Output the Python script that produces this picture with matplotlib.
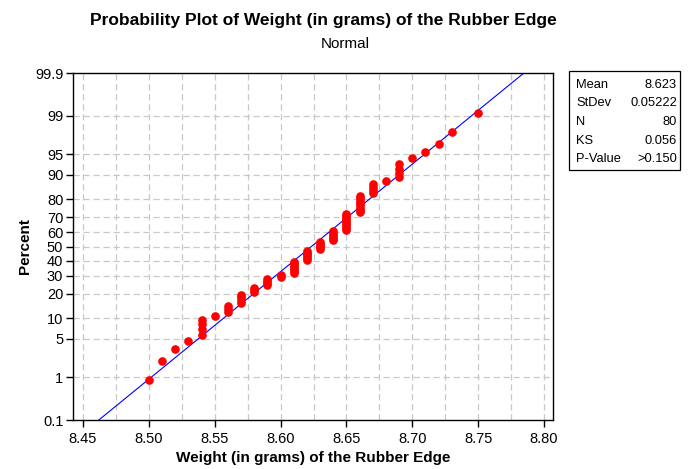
import matplotlib
matplotlib.use("Agg")
import matplotlib.pyplot as plt
import numpy as np
from statistics import NormalDist

plt.rcParams['font.family'] = ['Liberation Sans', 'DejaVu Sans']

# Data: weight values and counts of observations
weights = [8.50, 8.51, 8.52, 8.53, 8.54, 8.55, 8.56, 8.57, 8.58, 8.59, 8.60,
           8.61, 8.62, 8.63, 8.64, 8.65, 8.66, 8.67, 8.68, 8.69, 8.70, 8.71,
           8.72, 8.73, 8.75]
counts = [1, 1, 1, 1, 4, 1, 3, 4, 3, 4, 2,
          7, 6, 5, 6, 9, 8, 4, 1, 4, 1, 1,
          1, 1, 1]
y_ticks_pct = [0.1, 1, 5, 10, 20, 30, 40, 50, 60, 70, 80, 90, 95, 99, 99.9]
x_ticks = [8.45, 8.50, 8.55, 8.60, 8.65, 8.70, 8.75, 8.80]
stat_names = ["Mean", "StDev", "N", "KS", "P-Value"]
stat_values = ["8.623", "0.05222", "80", "0.056", ">0.150"]

nd = NormalDist()
data = np.sort(np.repeat(weights, counts))
n = len(data)
ranks = np.arange(1, n + 1)
pp = (ranks - 0.3) / (n + 0.4)
zpts = np.array([nd.inv_cdf(p) for p in pp])
mean = data.mean()
sd = data.std(ddof=1)

fig = plt.figure(figsize=(6.92, 4.69), dpi=100)
ax = fig.add_axes([73/692, 1-420/469, (553-73)/692, (420-73)/469])

zlo, zhi = nd.inv_cdf(0.001), nd.inv_cdf(0.999)
ax.set_ylim(zlo, zhi)
ax.set_xlim(8.4424, 8.8068)

# grid
gcol = '#c8c8c8'
for xv in np.arange(8.45, 8.80001, 0.025):
    ax.axvline(xv, color=gcol, lw=0.9, ls=(0, (5, 3)), zorder=0)
for p in y_ticks_pct[1:-1]:
    ax.axhline(nd.inv_cdf(p/100), color=gcol, lw=0.9, ls=(0, (5, 3)), zorder=0)

# fitted line
zl = np.array([zlo, zhi])
ax.plot(mean + sd*zl, zl, color='#0000ff', lw=0.8, zorder=2)

ax.plot(data, zpts, 'o', color='#ff0000', ms=5.2, mec='#ff0000', zorder=3)

ax.set_yticks([nd.inv_cdf(p/100) for p in y_ticks_pct])
ax.set_yticklabels([('%g' % p) for p in y_ticks_pct])
ax.set_xticks(x_ticks)
ax.set_xticklabels(['%.2f' % v for v in x_ticks])
ax.tick_params(axis='both', direction='out', length=5, width=1, labelsize=10.5, colors='black')
ax.tick_params(axis='y', pad=2)
for s in ax.spines.values():
    s.set_linewidth(1.0)

ax.set_xlabel("Weight (in grams) of the Rubber Edge", fontsize=11, fontweight='bold', labelpad=4)
ax.set_ylabel("Percent", fontsize=11, fontweight='bold', labelpad=2)

fig.text(323/692, 1-20/469, "Probability Plot of Weight (in grams) of the Rubber Edge",
         ha='center', va='center', fontsize=12.5, fontweight='bold')
fig.text(345/692, 1-44/469, "Normal", ha='center', va='center', fontsize=11)

# stats box
bx0, by0, bx1, by1 = 569, 71, 680, 170
fig.patches.append(plt.Rectangle((bx0/692, 1-by1/469), (bx1-bx0)/692, (by1-by0)/469,
                                 transform=fig.transFigure, fill=False, ec='black', lw=0.9))
for i, (nm, vl) in enumerate(zip(stat_names, stat_values)):
    yy = 1 - (85 + i*18.5)/469
    fig.text(576/692, yy, nm, ha='left', va='center', fontsize=9.3)
    fig.text(677/692, yy, vl, ha='right', va='center', fontsize=9.3)

fig.savefig("out.png", dpi=100)
